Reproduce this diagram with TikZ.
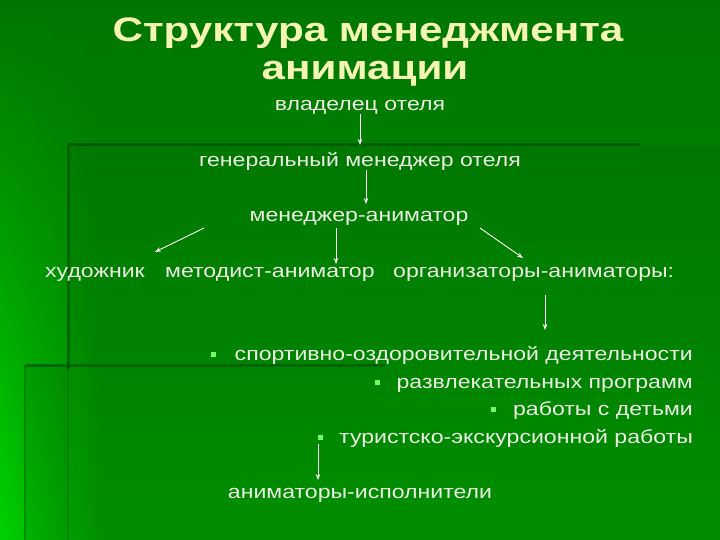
\documentclass[tikz,border=0pt]{standalone}
\usepackage{fontspec}
\setmainfont{Liberation Sans}
\newfontfamily\bodyfont[FakeStretch=1.215]{Liberation Sans}
\newfontfamily\titlefont[FakeStretch=1.24]{Liberation Sans}
\usetikzlibrary{arrows.meta,fadings}
\definecolor{bgtop}{RGB}{0,118,0}
\definecolor{bgbot}{RGB}{0,150,0}
\definecolor{glow}{RGB}{0,210,0}
\definecolor{edge}{RGB}{0,92,0}
\definecolor{titlecol}{RGB}{245,245,180}
\definecolor{txtcol}{RGB}{235,242,228}
\definecolor{bulletcol}{RGB}{120,250,100}
\tikzset{
  txt/.style={text=txtcol, font=\bodyfont\fontsize{19}{22}\selectfont, inner sep=0pt, anchor=base},
  ttl/.style={text=titlecol, font=\titlefont\bfseries\fontsize{34}{38}\selectfont, inner sep=0pt, anchor=base},
  arr/.style={draw=white, line width=0.9pt, -{Stealth[length=6pt,width=4.5pt]}},
  bul/.style={fill=bulletcol, minimum size=5pt, inner sep=0pt},
  itm/.style={txt, anchor=base east}
}
\begin{document}
\begin{tikzpicture}[x=1pt,y=-1pt]
\useasboundingbox (0,0) rectangle (720,540);
% background
\shade[top color=bgtop, bottom color=bgbot] (0,0) rectangle (720,540);
\shade[top color=bgtop, bottom color=glow, path fading=east] (0,0) rectangle (100,540);
% decorative panels
\fill[black, opacity=0.05] (68,145) rectangle (720,540);
\fill[black, opacity=0.08] (25,365) rectangle (68,540);
\draw[edge, line width=3pt] (68,145) -- (640,145);
\draw[edge, line width=3pt, opacity=0.8] (68,145) -- (68,370);
\draw[edge, line width=2pt, opacity=0.35] (68,370) -- (68,540);
\draw[edge, line width=3pt, opacity=0.8] (25,365) -- (385,365);
\draw[edge, line width=2.5pt, opacity=0.45] (25,365) -- (25,540);
% title
\node[ttl] (t1) at (368,42) {Структура менеджмента};
\node[ttl] (t2) at (365,80) {анимации};
% nodes
\node[txt] (own) at (360,111) {владелец отеля};
\node[txt] (gm) at (360,167) {генеральный менеджер отеля};
\node[txt] (ma) at (359,222) {менеджер-аниматор};
\node[txt, anchor=base west] (art) at (45,277) {художник};
\node[txt, anchor=base west] (met) at (165,277) {методист-аниматор};
\node[txt, anchor=base west] (org) at (393,277) {организаторы-аниматоры:};
\node[itm] (i1) at (693,360) {спортивно-оздоровительной деятельности};
\node[itm] (i2) at (693,388) {развлекательных программ};
\node[itm] (i3) at (693,415) {работы с детьми};
\node[itm] (i4) at (693,443) {туристско-экскурсионной работы};
\node[bul] (b1) at (213,354) {};
\node[bul] (b2) at (377,382) {};
\node[bul] (b3) at (493,409) {};
\node[bul] (b4) at (320,437) {};
\node[txt] (exe) at (360,498) {аниматоры-исполнители};
% connectors
\coordinate (a1s) at (360,114);
\coordinate (a1e) at (360,145);
\draw[arr] (a1s) -- (a1e);
\coordinate (a2s) at (366,170);
\coordinate (a2e) at (366,204);
\draw[arr] (a2s) -- (a2e);
\coordinate (a3s) at (204,228);
\coordinate (a3e) at (155,252);
\draw[arr] (a3s) -- (a3e);
\coordinate (a4s) at (336,228);
\coordinate (a4e) at (336,264);
\draw[arr] (a4s) -- (a4e);
\coordinate (a5s) at (480,228);
\coordinate (a5e) at (523,258);
\draw[arr] (a5s) -- (a5e);
\coordinate (a6s) at (545,295);
\coordinate (a6e) at (545,330);
\draw[arr] (a6s) -- (a6e);
\coordinate (a7s) at (318,444);
\coordinate (a7e) at (318,480);
\draw[arr] (a7s) -- (a7e);
\end{tikzpicture}
\end{document}
